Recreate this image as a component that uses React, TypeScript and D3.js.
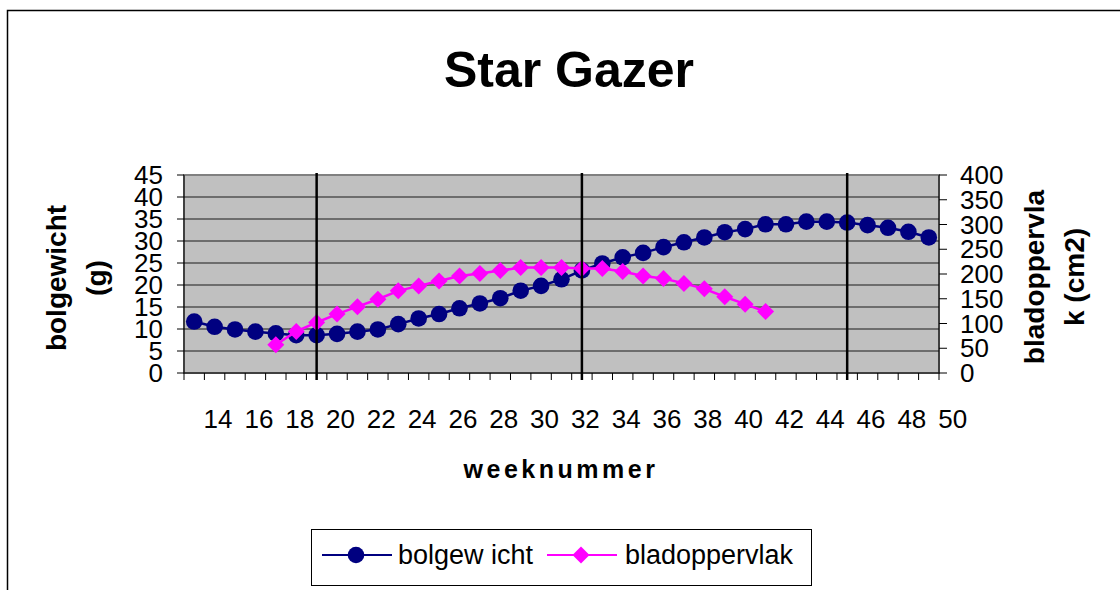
import React from "react";
import * as d3 from "d3";

const weeks = [14,15,16,17,18,19,20,21,22,23,24,25,26,27,28,29,30,31,32,33,34,35,36,37,38,39,40,41,42,43,44,45,46,47,48,49,50];
const bolgewicht = [11.7,10.5,9.9,9.4,9.0,8.6,8.6,8.9,9.4,9.9,11.1,12.4,13.4,14.7,15.8,17.0,18.7,19.8,21.3,23.3,24.9,26.3,27.3,28.6,29.7,30.8,32.0,32.7,33.8,33.8,34.4,34.4,34.2,33.6,33.0,32.1,30.8];
const bladoppervlak: (number | null)[] = [null,null,null,null,57,84,102,119,134,149,166,176,186,196,201,207,213,213,213,211,211,205,196,191,181,170,154,139,124,null,null,null,null,null,null,null,null];
const leftTicks = [0,5,10,15,20,25,30,35,40,45];
const rightTicks = [0,50,100,150,200,250,300,350,400];
const markerWeeks = [20,33,46];
const title = "Star Gazer";
const xTitle = "weeknummer";
const yLeftTitle = ["bolgewicht", "(g)"];
const yRightTitle = ["bladoppervla", "k (cm2)"];
const legendLabels = ["bolgew icht", "bladoppervlak"];

const W = 1120, H = 590;
const plot = { l: 184, r: 939, t: 175, b: 373 };
const FONT = "'Liberation Sans', Arial, sans-serif";
const NAVY = "#000080";
const MAGENTA = "#FF00FF";

export default function App() {
  const x = d3.scaleBand<number>().domain(weeks).range([plot.l, plot.r]).padding(0);
  const bw = x.bandwidth();
  const cx = (w: number) => (x(w) as number) + bw / 2;
  const yL = d3.scaleLinear().domain([0, 45]).range([plot.b, plot.t]);
  const yR = d3.scaleLinear().domain([0, 400]).range([plot.b, plot.t]);

  const lineL = d3.line<number>().x((_, i) => cx(weeks[i])).y((d) => yL(d));
  const lineR = d3
    .line<number | null>()
    .defined((d) => d != null)
    .x((_, i) => cx(weeks[i]))
    .y((d) => yR(d as number));

  const diamond = (px: number, py: number, s: number) =>
    `M${px},${py - s}L${px + s},${py}L${px},${py + s}L${px - s},${py}Z`;

  const labelOffset = bw * 1.17;

  return (
    <svg width={W} height={H} style={{ position: "absolute", left: 0, top: 0, background: "#fff" }} fontFamily={FONT}>
      <rect x={0} y={0} width={W} height={H} fill="#fff" />
      <rect x={7.5} y={10.5} width={W + 20} height={H + 20} fill="none" stroke="#000" strokeWidth={1.5} />
      <text x={569} y={87} textAnchor="middle" fontSize={50} fontWeight="bold">{title}</text>

      {/* plot area */}
      <rect x={plot.l} y={plot.t} width={plot.r - plot.l} height={plot.b - plot.t} fill="#C0C0C0" stroke="#808080" strokeWidth={2} />
      {leftTicks.slice(1, -1).map((t) => (
        <line key={"g" + t} x1={plot.l} x2={plot.r} y1={yL(t)} y2={yL(t)} stroke="#1a1a1a" strokeWidth={1} />
      ))}

      {/* axes */}
      <line x1={plot.l} x2={plot.l} y1={plot.t} y2={plot.b} stroke="#000" strokeWidth={1} />
      <line x1={plot.r} x2={plot.r} y1={plot.t} y2={plot.b} stroke="#000" strokeWidth={1} />
      <line x1={plot.l} x2={plot.r} y1={plot.b} y2={plot.b} stroke="#000" strokeWidth={1} />
      {leftTicks.map((t) => (
        <g key={"l" + t}>
          <line x1={plot.l - 7} x2={plot.l} y1={yL(t)} y2={yL(t)} stroke="#000" />
          <text x={163} y={yL(t) + 9} textAnchor="end" fontSize={26}>{t}</text>
        </g>
      ))}
      {rightTicks.map((t) => (
        <g key={"r" + t}>
          <line x1={plot.r} x2={plot.r + 8} y1={yR(t)} y2={yR(t)} stroke="#000" />
          <text x={960} y={yR(t) + 9} textAnchor="start" fontSize={26}>{t}</text>
        </g>
      ))}
      {weeks.map((w) => (
        <line key={"t" + w} x1={x(w) as number} x2={x(w) as number} y1={plot.b} y2={plot.b + 7} stroke="#000" />
      ))}
      <line x1={plot.r} x2={plot.r} y1={plot.b} y2={plot.b + 7} stroke="#000" />
      {weeks.filter((_, i) => i % 2 === 0).map((w) => (
        <text key={"xl" + w} x={cx(w) + labelOffset} y={428} textAnchor="middle" fontSize={26}>{w}</text>
      ))}

      {/* series */}
      <path d={lineL(bolgewicht) || ""} fill="none" stroke={NAVY} strokeWidth={2.5} />
      {bolgewicht.map((v, i) => (
        <circle key={"c" + i} cx={cx(weeks[i])} cy={yL(v)} r={8.3} fill={NAVY} />
      ))}
      <path d={lineR(bladoppervlak) || ""} fill="none" stroke={MAGENTA} strokeWidth={2.5} />
      {bladoppervlak.map((v, i) =>
        v == null ? null : <path key={"d" + i} d={diamond(cx(weeks[i]), yR(v), 8.5)} fill={MAGENTA} />
      )}

      {/* vertical marker lines */}
      {markerWeeks.map((w) => (
        <line key={"m" + w} x1={cx(w)} x2={cx(w)} y1={plot.t - 2} y2={plot.b + 7} stroke="#000" strokeWidth={2.5} />
      ))}

      {/* axis titles */}
      <text x={561} y={478} textAnchor="middle" fontSize={25} fontWeight="bold" letterSpacing={3.5}>{xTitle}</text>
      {yLeftTitle.map((s, i) => (
        <text key={"ylt" + i} transform={`translate(${66 + i * 40},${278}) rotate(-90)`} textAnchor="middle" fontSize={28} fontWeight="bold">{s}</text>
      ))}
      {yRightTitle.map((s, i) => (
        <text key={"yrt" + i} transform={`translate(${1044 + i * 40},${277}) rotate(-90)`} textAnchor="middle" fontSize={28} fontWeight="bold">{s}</text>
      ))}

      {/* legend */}
      <rect x={311.5} y={529.5} width={500} height={56} fill="#fff" stroke="#000" strokeWidth={1} />
      <line x1={322} x2={392} y1={555} y2={555} stroke={NAVY} strokeWidth={2} />
      <circle cx={356} cy={555} r={8.3} fill={NAVY} />
      <text x={398} y={564} fontSize={27}>{legendLabels[0]}</text>
      <line x1={547} x2={617} y1={555} y2={555} stroke={MAGENTA} strokeWidth={2} />
      <path d={diamond(581, 555, 8.5)} fill={MAGENTA} />
      <text x={625} y={564} fontSize={27}>{legendLabels[1]}</text>
    </svg>
  );
}
